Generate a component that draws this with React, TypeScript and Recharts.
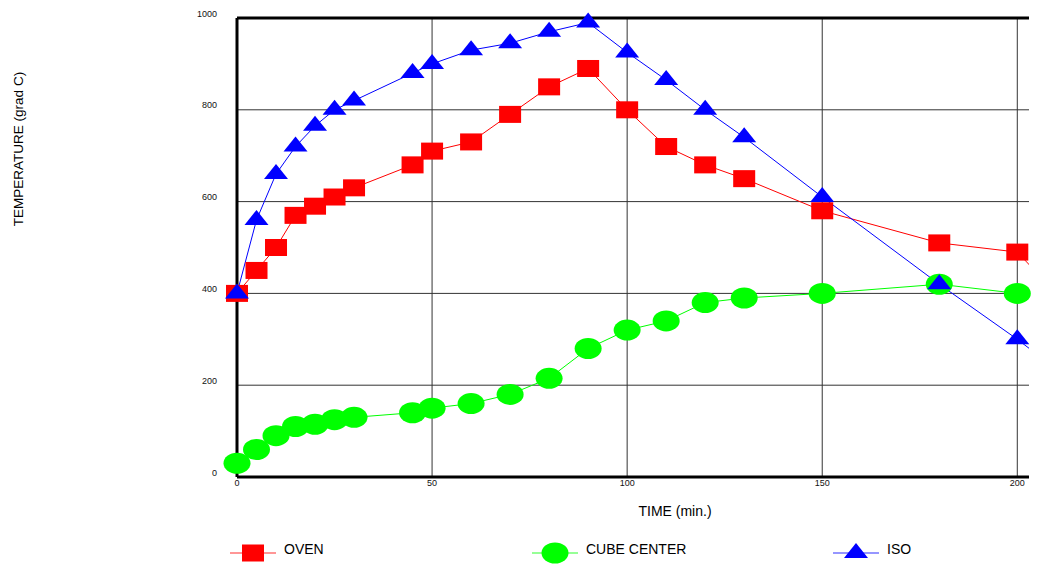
import React from "react";
import { LineChart, Line, XAxis, YAxis, CartesianGrid, ReferenceLine } from "recharts";

// measurement times (min.) and temperatures (grad C)
const times = [0, 5, 10, 15, 20, 25, 30, 45, 50, 60, 70, 80, 90, 100, 110, 120, 130, 150, 180, 200];
const oven = [400, 450, 500, 570, 590, 610, 630, 680, 710, 730, 790, 850, 890, 800, 720, 680, 650, 580, 510, 490];
const cubeCenter = [30, 60, 90, 110, 115, 125, 130, 140, 150, 160, 180, 215, 280, 320, 340, 380, 390, 400, 420, 400];
const iso = [400, 560, 660, 720, 765, 800, 820, 880, 900, 930, 945, 970, 990, 925, 865, 800, 740, 610, 420, 300];

// next readings, beyond the visible time range (the curves run off the right edge)
const nextTime = 210;
const ovenNext = 400;
const isoNext = 235;

const xTicks = [0, 50, 100, 150, 200];
const yTicks = [0, 200, 400, 600, 800, 1000];
const gridValues = [200, 400, 600, 800];

const seriesNames = ["OVEN", "CUBE CENTER", "ISO"];
const seriesColors = ["#ff0000", "#00ff00", "#0000ff"];

const rows = times.map((t, i) => ({ time: t, oven: oven[i], cube: cubeCenter[i], iso: iso[i] }));
const ovenTail = [...rows.map((r) => ({ time: r.time, oven: r.oven })), { time: nextTime, oven: ovenNext }];
const isoTail = [...rows.map((r) => ({ time: r.time, iso: r.iso })), { time: nextTime, iso: isoNext }];
const lineData = [ovenTail, rows, isoTail];

const FONT = "'Liberation Sans', Arial, sans-serif";

function Square({ cx, cy, fill }: { cx: number; cy: number; fill: string }) {
  return <rect x={cx - 11} y={cy - 8.5} width={22} height={17} fill={fill} />;
}
function Oval({ cx, cy, fill }: { cx: number; cy: number; fill: string }) {
  return <ellipse cx={cx} cy={cy} rx={13.5} ry={10.5} fill={fill} />;
}
function Triangle({ cx, cy, fill }: { cx: number; cy: number; fill: string }) {
  return <polygon points={`${cx},${cy - 10} ${cx + 12},${cy + 5} ${cx - 12},${cy + 5}`} fill={fill} />;
}

const markers = [Square, Oval, Triangle];
const keys = ["oven", "cube", "iso"];

const makeDot = (idx: number) => (p: any) => {
  const Shape = markers[idx];
  if (p.cx == null || p.cy == null) return <g key={`${keys[idx]}-${p.index}`} />;
  return (
    <g key={`${keys[idx]}-${p.index}`}>
      <Shape cx={p.cx} cy={p.cy} fill={seriesColors[idx]} />
    </g>
  );
};

const XTick = (p: any) => (
  <text x={p.x} y={p.y} dy={1} textAnchor="middle" fontSize={9} fontFamily={FONT} fill="#111">
    {p.payload.value}
  </text>
);

const YTick = (p: any) => (
  <text x={p.x} y={p.y} dy={-1.5} textAnchor="end" fontSize={9} fontFamily={FONT} fill="#111">
    {p.payload.value}
  </text>
);

const legendX = [253, 555, 856];

function LegendRow() {
  return (
    <svg width={1041} height={39} style={{ position: "absolute", left: 0, top: 530 }}>
      {seriesNames.map((name, i) => {
        const Shape = markers[i];
        const cx = legendX[i];
        return (
          <g key={name}>
            <line x1={cx - 23} x2={cx + 23} y1={23} y2={23} stroke={seriesColors[i]} strokeOpacity={0.55} strokeWidth={1.5} />
            <Shape cx={cx} cy={23} fill={seriesColors[i]} />
            <text x={cx + 31} y={24} fontSize={14} fontFamily={FONT} fill="#000">
              {name}
            </text>
          </g>
        );
      })}
    </svg>
  );
}

function Titles() {
  return (
    <svg width={1041} height={569} style={{ position: "absolute", left: 0, top: 0, pointerEvents: "none" }}>
      <text x={675} y={516} textAnchor="middle" fontSize={14} fontFamily={FONT} fill="#000">
        TIME (min.)
      </text>
      <text x={23} y={149} transform="rotate(-90 23 149)" textAnchor="middle" fontSize={13.5} fontFamily={FONT} fill="#000">
        TEMPERATURE (grad C)
      </text>
    </svg>
  );
}

export default function App() {
  return (
    <div style={{ position: "absolute", left: 0, top: 0, width: 1041, height: 569, background: "#fff" }}>
      <LineChart width={1041} height={569} margin={{ top: 18, right: 12, left: 0, bottom: 0 }}>
        <XAxis
          xAxisId="marks"
          dataKey="time"
          type="number"
          domain={[0, 203]}
          ticks={xTicks}
          height={92}
          axisLine={{ stroke: "#000", strokeWidth: 3 }}
          tickLine={false}
          tick={<XTick />}
        />
        <XAxis xAxisId="lines" dataKey="time" type="number" domain={[0, 203]} allowDataOverflow hide height={0} />
        <YAxis
          type="number"
          domain={[0, 1000]}
          ticks={yTicks}
          width={237}
          axisLine={{ stroke: "#000", strokeWidth: 3 }}
          tickLine={false}
          tickMargin={14}
          tick={<YTick />}
        />
        {gridValues.map((v) => (
          <ReferenceLine key={`h-${v}`} xAxisId="marks" y={v} stroke="#333" strokeWidth={1} />
        ))}
        {xTicks.slice(1).map((t) => (
          <ReferenceLine key={`v-${t}`} xAxisId="marks" x={t} stroke="#333" strokeWidth={1} />
        ))}
        <ReferenceLine xAxisId="marks" y={1000} stroke="#000" strokeWidth={3} />
        {keys.map((k, i) => [
          <Line
            key={`${k}-line`}
            xAxisId="lines"
            data={lineData[i]}
            dataKey={k}
            stroke={seriesColors[i]}
            strokeWidth={1}
            dot={false}
            activeDot={false}
            isAnimationActive={false}
          />,
          <Line
            key={`${k}-marks`}
            xAxisId="marks"
            data={rows}
            dataKey={k}
            stroke="none"
            dot={makeDot(i)}
            activeDot={false}
            isAnimationActive={false}
          />,
        ])}
      </LineChart>
      <Titles />
      <LegendRow />
    </div>
  );
}
